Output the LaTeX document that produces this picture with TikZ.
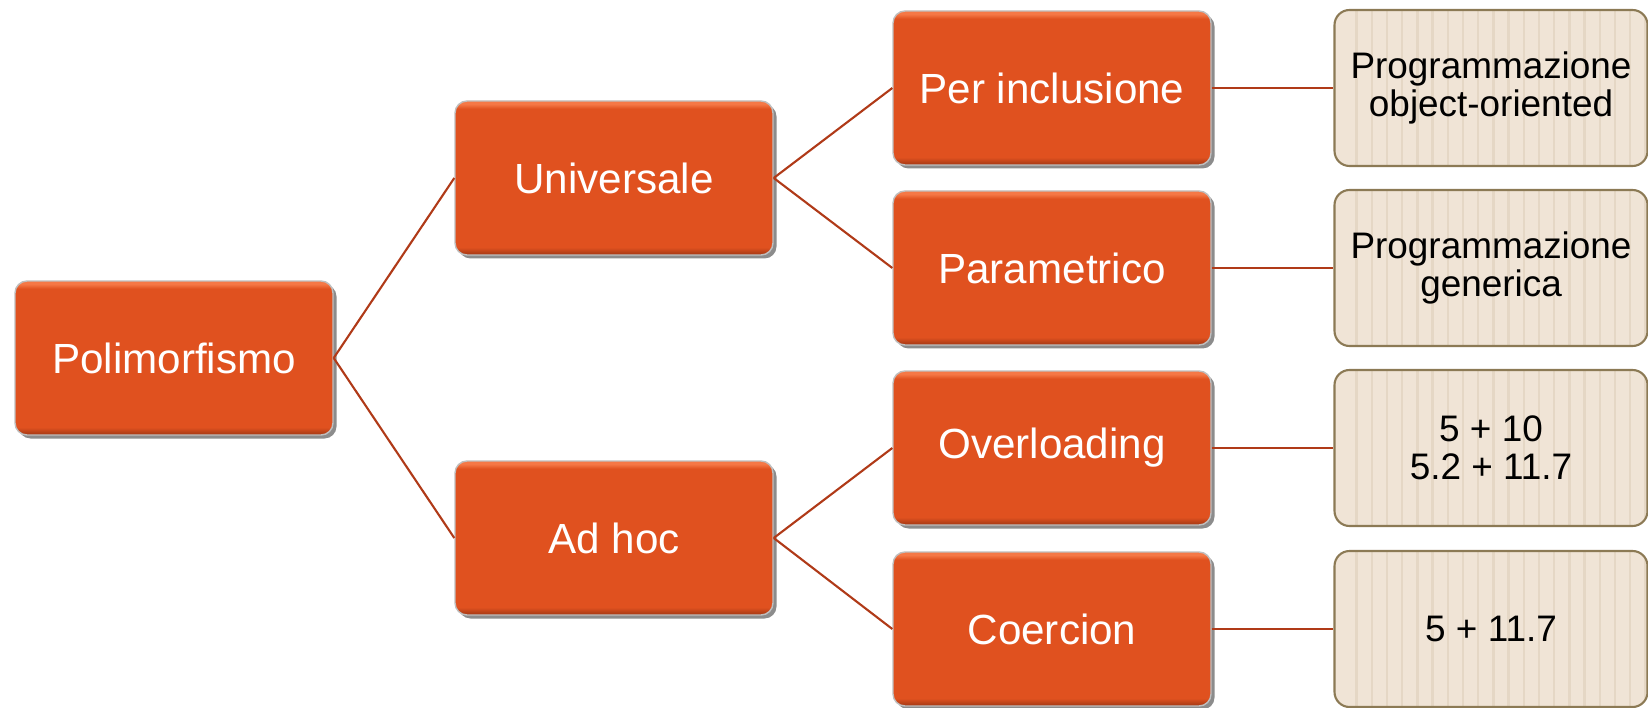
\documentclass[tikz,border=0pt]{standalone}
\usepackage{fontspec}
\setmainfont{Liberation Sans}
\usetikzlibrary{shadows}

\definecolor{boxorange}{RGB}{224,81,31}
\definecolor{boxdark}{RGB}{160,55,20}
\definecolor{boxlight}{RGB}{245,120,70}
\definecolor{lineorange}{RGB}{176,58,24}
\definecolor{notefill}{RGB}{240,228,214}
\definecolor{notestripe}{RGB}{229,215,197}
\definecolor{noteborder}{RGB}{140,122,85}

% bevel look of the orange boxes (path sits between 25bp and 75bp)
\pgfdeclareverticalshading{bevel}{100bp}{color(0bp)=(boxdark); color(25bp)=(boxdark);
  color(27.5bp)=(boxorange); color(72.5bp)=(boxorange); color(74bp)=(boxlight); color(100bp)=(boxlight)}

\begin{document}
\begin{tikzpicture}[x=0.1mm, y=-0.1mm,
    kind/.style={draw=black!25, line width=0.4pt, shading=bevel, rounded corners=1.2mm,
      minimum width=31.8mm, minimum height=15.4mm, text=white, font=\fontsize{12}{14}\selectfont,
      drop shadow={shadow xshift=0.35mm, shadow yshift=-0.35mm, fill=black, opacity=0.45}},
    example/.style={draw=noteborder, line width=0.6pt, fill=notefill, rounded corners=1.5mm,
      minimum width=31.3mm, minimum height=15.6mm, align=center, font=\fontsize{10.5}{10.7}\selectfont,
      path picture={
        \foreach \k in {0,...,19}
          \draw[notestripe, line width=0.7pt]
            ([xshift=2.2mm+\k*1.52mm]path picture bounding box.south west) --
            ([xshift=2.2mm+\k*1.52mm]path picture bounding box.north west);
      }},
    link/.style={lineorange, line width=0.6pt}]
    \useasboundingbox (0,0) rectangle (1648,707);

    % Tree of the kinds
    \node[kind] (poly) at (174,358) {Polimorfismo};
    \node[kind] (univ) at (614,178) {Universale};
    \node[kind] (adhoc) at (614,538) {Ad hoc};
    \node[kind] (incl) at (1052,88) {Per inclusione};
    \node[kind] (param) at (1052,268) {Parametrico};
    \node[kind] (over) at (1052,448) {Overloading};
    \node[kind] (coerc) at (1052,629) {Coercion};

    % Examples
    \node[example] (exincl) at (1491,88) {Programmazione\\object-oriented};
    \node[example] (exparam) at (1491,268) {Programmazione\\generica};
    \node[example] (exover) at (1491,448) {5 + 10\\5.2 + 11.7};
    \node[example] (excoerc) at (1491,629) {5 + 11.7};

    % Links
    \draw[link] (poly.east) -- (univ.west);
    \draw[link] (poly.east) -- (adhoc.west);
    \draw[link] (univ.east) -- (incl.west);
    \draw[link] (univ.east) -- (param.west);
    \draw[link] (adhoc.east) -- (over.west);
    \draw[link] (adhoc.east) -- (coerc.west);
    \foreach \a/\b in {incl/exincl, param/exparam, over/exover, coerc/excoerc}
      \draw[link] (\a.east) -- (\b.west);
\end{tikzpicture}
\end{document}
